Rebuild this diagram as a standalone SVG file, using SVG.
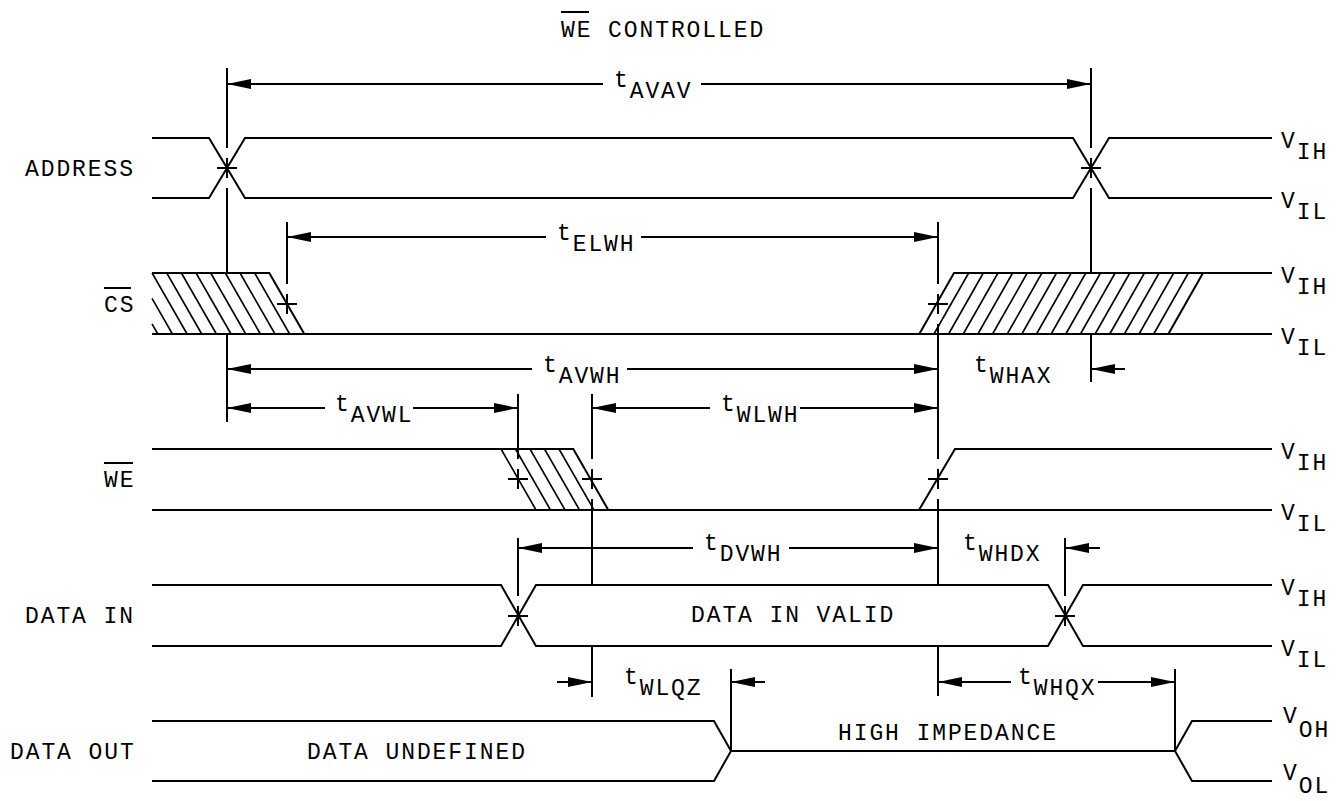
<svg xmlns="http://www.w3.org/2000/svg" width="1344" height="801" viewBox="0 0 1344 801">
<style>
.s{fill:none;stroke:#000;stroke-width:2;stroke-linecap:butt}
.h{fill:none;stroke:#000;stroke-width:1.6}
.a{fill:none;stroke:#000;stroke-width:2}
.ae{marker-end:url(#arr)}
.as{marker-start:url(#arr)}
text{font-family:"Liberation Mono","DejaVu Sans Mono",monospace;font-size:23px;letter-spacing:1.9px;fill:#000}
</style>
<defs>
<marker id="arr" viewBox="0 0 24 10" refX="24" refY="5" markerWidth="24" markerHeight="10" markerUnits="userSpaceOnUse" orient="auto-start-reverse">
<path d="M0,0 L24,5 L0,10 Z" fill="#000"/>
</marker>
</defs>
<rect width="1344" height="801" fill="#fff"/>

<g id="title">
<text x="561" y="37">WE CONTROLLED</text>
<line class="s" x1="561" y1="12" x2="589" y2="12"/>
</g>

<g id="address">
<text x="25" y="176">ADDRESS</text>
<path class="s" d="M152,138 H209 L245,198 H1073 L1109,138 H1272"/>
<path class="s" d="M152,198 H209 L245,138 H1073 L1109,198 H1272"/>
<text x="1281" y="148">V<tspan dy="11">IH</tspan></text>
<text x="1281" y="208">V<tspan dy="11">IL</tspan></text>
</g>

<g id="cs">
<text x="104" y="312">CS</text>
<line class="s" x1="104" y1="288" x2="131" y2="288"/>
<path class="s" d="M152,273 H269.3 L304.3,334"/>
<line class="s" x1="152" y1="334" x2="1272" y2="334"/>
<g class="h">
<line x1="254.65" y1="273" x2="289.65" y2="334"/>
<line x1="240" y1="273" x2="275" y2="334"/>
<line x1="225.35" y1="273" x2="260.35" y2="334"/>
<line x1="210.7" y1="273" x2="245.7" y2="334"/>
<line x1="196.05" y1="273" x2="231.05" y2="334"/>
<line x1="181.4" y1="273" x2="216.4" y2="334"/>
<line x1="166.75" y1="273" x2="201.75" y2="334"/>
<line x1="152.1" y1="273" x2="187.1" y2="334"/>
<line x1="152" y1="298.4" x2="172.45" y2="334"/>
<line x1="152" y1="323.9" x2="157.8" y2="334"/>
</g>
<path class="s" d="M919.3,334 L954,273 H1272"/>
<line class="s" x1="1168.35" y1="334" x2="1203" y2="273"/>
<g class="h">
<line x1="933.95" y1="334" x2="968.65" y2="273"/>
<line x1="948.6" y1="334" x2="983.3" y2="273"/>
<line x1="963.25" y1="334" x2="997.95" y2="273"/>
<line x1="977.9" y1="334" x2="1012.6" y2="273"/>
<line x1="992.55" y1="334" x2="1027.25" y2="273"/>
<line x1="1007.2" y1="334" x2="1041.9" y2="273"/>
<line x1="1021.85" y1="334" x2="1056.55" y2="273"/>
<line x1="1036.5" y1="334" x2="1071.2" y2="273"/>
<line x1="1051.15" y1="334" x2="1085.85" y2="273"/>
<line x1="1065.8" y1="334" x2="1100.5" y2="273"/>
<line x1="1080.45" y1="334" x2="1115.15" y2="273"/>
<line x1="1095.1" y1="334" x2="1129.8" y2="273"/>
<line x1="1109.75" y1="334" x2="1144.45" y2="273"/>
<line x1="1124.4" y1="334" x2="1159.1" y2="273"/>
<line x1="1139.05" y1="334" x2="1173.75" y2="273"/>
<line x1="1153.7" y1="334" x2="1188.4" y2="273"/>
</g>
<text x="1281" y="283">V<tspan dy="11">IH</tspan></text>
<text x="1281" y="344">V<tspan dy="11">IL</tspan></text>
</g>

<g id="we">
<text x="104" y="487">WE</text>
<line class="s" x1="104" y1="463" x2="133" y2="463"/>
<path class="s" d="M152,449 H573.3 L608.3,510"/>
<line class="s" x1="152" y1="510" x2="1272" y2="510"/>
<g class="h">
<line x1="501" y1="449" x2="536" y2="510"/>
<line x1="515.5" y1="449" x2="550.5" y2="510"/>
<line x1="530" y1="449" x2="565" y2="510"/>
<line x1="544.5" y1="449" x2="579.5" y2="510"/>
<line x1="559" y1="449" x2="594" y2="510"/>
</g>
<path class="s" d="M919,510 L955,449 H1272"/>
<text x="1281" y="459">V<tspan dy="11">IH</tspan></text>
<text x="1281" y="520">V<tspan dy="11">IL</tspan></text>
</g>

<g id="data-in">
<text x="25" y="623">DATA IN</text>
<path class="s" d="M152,585 H501 L536,646 H1048 L1083,585 H1272"/>
<path class="s" d="M152,646 H501 L536,585 H1048 L1083,646 H1272"/>
<text x="691" y="622">DATA IN VALID</text>
<text x="1281" y="595">V<tspan dy="11">IH</tspan></text>
<text x="1281" y="656">V<tspan dy="11">IL</tspan></text>
</g>

<g id="data-out">
<text x="10" y="759">DATA OUT</text>
<path class="s" d="M152,721 H714 L731,751 H1175 L1192,721 H1272"/>
<path class="s" d="M152,781 H714 L731,751 M1175,751 L1192,781 H1272"/>
<text x="307" y="759">DATA UNDEFINED</text>
<text x="838" y="740">HIGH IMPEDANCE</text>
<text x="1283" y="723">V<tspan dy="14">OH</tspan></text>
<text x="1283" y="780">V<tspan dy="13">OL</tspan></text>
</g>

<g id="connectors">
<path class="s" d="M227,68 V148 M227,158 V178 M217,168 H237 M227,188 V273 M227,334 V422"/>
<path class="s" d="M1091,68 V148 M1091,158 V178 M1081,168 H1101 M1091,188 V273 M1091,334 V382"/>
<path class="s" d="M287,222 V284 M287,294 V314 M277,304 H297"/>
<path class="s" d="M938,222 V284 M938,294 V314 M928,304 H948 M938,324 V459 M938,469 V489 M928,479 H948 M938,499 V585 M938,646 V696"/>
<path class="s" d="M518,394 V459 M518,469 V489 M508,479 H528"/>
<path class="s" d="M592,394 V459 M592,469 V489 M582,479 H602 M592,499 V585 M592,646 V697"/>
<path class="s" d="M518,538 V596 M518,606 V626 M508,616 H528"/>
<path class="s" d="M1065,538 V596 M1065,606 V626 M1055,616 H1075"/>
<path class="s" d="M731,669 V751 M1175,669 V751"/>

<line class="a as" x1="227" y1="84" x2="603" y2="84"/>
<line class="a ae" x1="701" y1="84" x2="1091" y2="84"/>
<text x="614" y="87">t<tspan dy="11">AVAV</tspan></text>

<line class="a as" x1="287" y1="237" x2="546" y2="237"/>
<line class="a ae" x1="641" y1="237" x2="938" y2="237"/>
<text x="557" y="240">t<tspan dy="11">ELWH</tspan></text>

<line class="a as" x1="227" y1="369" x2="532" y2="369"/>
<line class="a ae" x1="627" y1="369" x2="938" y2="369"/>
<text x="543" y="372">t<tspan dy="11">AVWH</tspan></text>

<line class="a ae" x1="1125" y1="369" x2="1091" y2="369"/>
<text x="974" y="372">t<tspan dy="11">WHAX</tspan></text>

<line class="a as" x1="227" y1="408" x2="325" y2="408"/>
<line class="a ae" x1="413" y1="408" x2="518" y2="408"/>
<text x="335" y="411">t<tspan dy="11">AVWL</tspan></text>

<line class="a as" x1="592" y1="408" x2="710" y2="408"/>
<line class="a ae" x1="800" y1="408" x2="938" y2="408"/>
<text x="721" y="411">t<tspan dy="11">WLWH</tspan></text>

<line class="a as" x1="518" y1="548" x2="693" y2="548"/>
<line class="a ae" x1="789" y1="548" x2="938" y2="548"/>
<text x="704" y="550">t<tspan dy="11">DVWH</tspan></text>

<line class="a ae" x1="1100" y1="548" x2="1065" y2="548"/>
<text x="963" y="550">t<tspan dy="11">WHDX</tspan></text>

<line class="a ae" x1="557" y1="682" x2="592" y2="682"/>
<line class="a ae" x1="765" y1="682" x2="731" y2="682"/>
<text x="624" y="684">t<tspan dy="11">WLQZ</tspan></text>

<line class="a as" x1="938" y1="682" x2="1011" y2="682"/>
<line class="a ae" x1="1098" y1="682" x2="1175" y2="682"/>
<text x="1018" y="684">t<tspan dy="11">WHQX</tspan></text>
</g>
</svg>
